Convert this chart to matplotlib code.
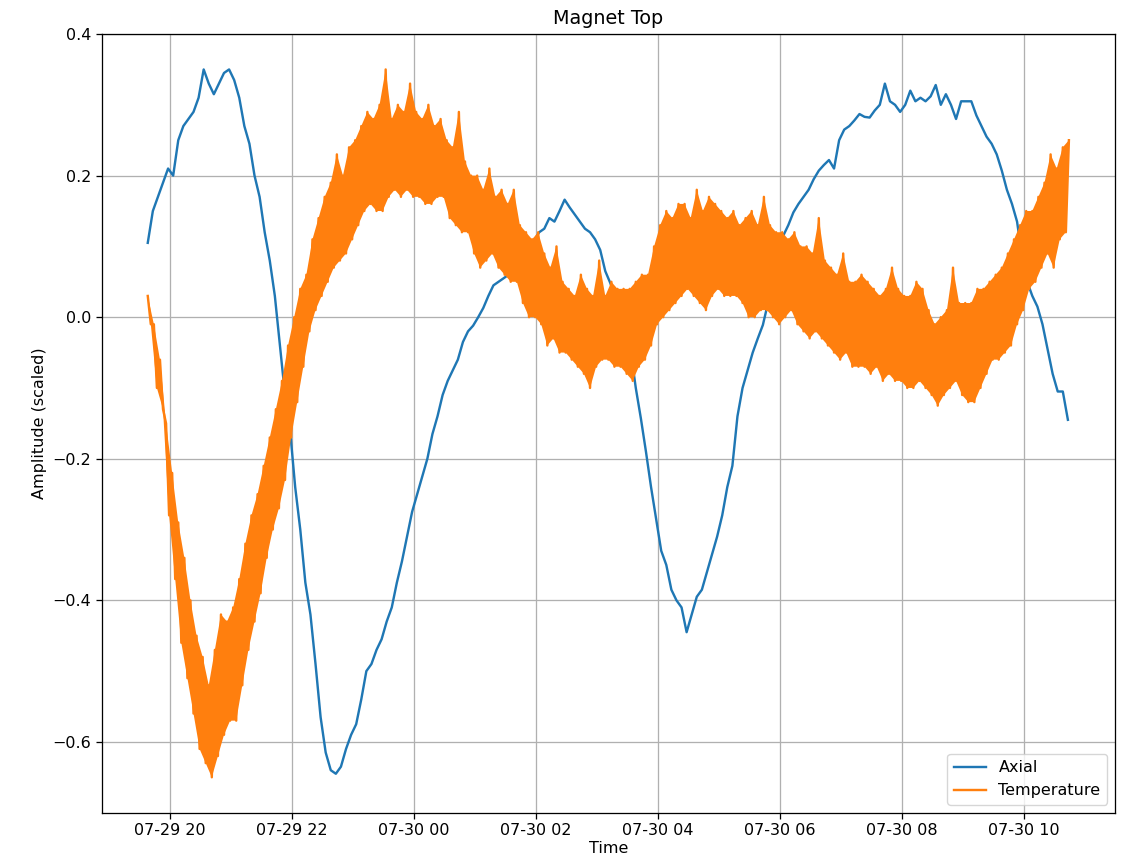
import numpy as np
import pandas as pd
import matplotlib
matplotlib.use("Agg")
import matplotlib.pyplot as plt
import matplotlib.dates as mdates

# readings taken off the plot, sensor start 07-29 19:38
start = pd.Timestamp("2019-07-29 19:38")

# axial amplitude, one reading every 5 minutes
axial = [
    0.105, 0.15, 0.17, 0.19, 0.21, 0.20, 0.25, 0.27, 0.28, 0.29,
    0.31, 0.35, 0.33, 0.315, 0.33, 0.345, 0.35, 0.335, 0.31, 0.27,
    0.245, 0.20, 0.17, 0.12, 0.08, 0.03, -0.04, -0.11, -0.16, -0.24,
    -0.30, -0.375, -0.42, -0.49, -0.565, -0.615, -0.64, -0.645, -0.635, -0.61,
    -0.59, -0.575, -0.54, -0.50, -0.49, -0.47, -0.455, -0.43, -0.41, -0.375,
    -0.345, -0.31, -0.275, -0.25, -0.225, -0.20, -0.165, -0.14, -0.11, -0.09,
    -0.075, -0.06, -0.035, -0.02, -0.012, 0.0, 0.013, 0.03, 0.045, 0.05,
    0.055, 0.06, 0.065, 0.085, 0.095, 0.10, 0.108, 0.12, 0.125, 0.14,
    0.135, 0.15, 0.166, 0.155, 0.145, 0.135, 0.125, 0.12, 0.11, 0.095,
    0.065, 0.048, 0.025, 0.0, -0.025, -0.048, -0.10, -0.143, -0.19, -0.24,
    -0.285, -0.33, -0.35, -0.385, -0.40, -0.41, -0.445, -0.42, -0.395, -0.385,
    -0.36, -0.335, -0.31, -0.28, -0.24, -0.21, -0.14, -0.10, -0.075, -0.05,
    -0.03, -0.011, 0.02, 0.05, 0.08, 0.115, 0.13, 0.148, 0.16, 0.17,
    0.18, 0.195, 0.207, 0.215, 0.222, 0.21, 0.25, 0.265, 0.27, 0.278,
    0.287, 0.283, 0.282, 0.292, 0.30, 0.33, 0.305, 0.30, 0.29, 0.30,
    0.32, 0.305, 0.31, 0.305, 0.312, 0.328, 0.30, 0.315, 0.30, 0.28,
    0.305, 0.305, 0.305, 0.285, 0.27, 0.255, 0.245, 0.23, 0.207, 0.18,
    0.16, 0.135, 0.085, 0.05, 0.03, 0.015, -0.01, -0.045, -0.08, -0.105,
    -0.105, -0.145,
]

# temperature swings hard between readings: upper peaks every 6 min,
# lower troughs every 6 min offset by 3 min
temp_hi = [
    0.03, -0.01, -0.06, -0.15, -0.22, -0.29, -0.34, -0.40, -0.45, -0.48,
    -0.52, -0.47, -0.42, -0.43, -0.41, -0.37, -0.32, -0.28, -0.25, -0.21,
    -0.17, -0.13, -0.09, -0.04, 0.00, 0.04, 0.06, 0.11, 0.14, 0.17,
    0.19, 0.23, 0.20, 0.24, 0.25, 0.27, 0.29, 0.28, 0.30, 0.35,
    0.28, 0.30, 0.29, 0.33, 0.29, 0.28, 0.30, 0.27, 0.28, 0.25,
    0.24, 0.29, 0.22, 0.20, 0.20, 0.18, 0.21, 0.17, 0.18, 0.16,
    0.18, 0.13, 0.12, 0.11, 0.12, 0.09, 0.07, 0.10, 0.05, 0.04,
    0.03, 0.06, 0.04, 0.03, 0.08, 0.03, 0.05, 0.04, 0.04, 0.04,
    0.05, 0.06, 0.06, 0.10, 0.13, 0.15, 0.14, 0.16, 0.16, 0.14,
    0.18, 0.15, 0.17, 0.16, 0.15, 0.14, 0.15, 0.13, 0.14, 0.15,
    0.13, 0.17, 0.13, 0.12, 0.12, 0.11, 0.12, 0.10, 0.10, 0.09,
    0.14, 0.08, 0.07, 0.06, 0.09, 0.05, 0.05, 0.06, 0.05, 0.04,
    0.03, 0.04, 0.07, 0.04, 0.03, 0.03, 0.05, 0.04, 0.01, -0.01,
    0.00, 0.01, 0.07, 0.02, 0.02, 0.02, 0.04, 0.04, 0.05, 0.06,
    0.07, 0.09, 0.11, 0.13, 0.15, 0.15, 0.17, 0.19, 0.23, 0.21,
    0.24, 0.25,
]
temp_lo = [
    -0.01, -0.10, -0.13, -0.28, -0.37, -0.46, -0.51, -0.56, -0.61, -0.63,
    -0.65, -0.62, -0.59, -0.57, -0.57, -0.52, -0.47, -0.43, -0.39, -0.34,
    -0.30, -0.27, -0.23, -0.17, -0.12, -0.07, -0.02, 0.01, 0.03, 0.05,
    0.07, 0.08, 0.09, 0.11, 0.13, 0.15, 0.16, 0.15, 0.15, 0.17,
    0.18, 0.17, 0.18, 0.17, 0.17, 0.16, 0.16, 0.17, 0.17, 0.14,
    0.13, 0.12, 0.12, 0.09, 0.07, 0.08, 0.09, 0.07, 0.06, 0.05,
    0.05, 0.02, 0.00, 0.00, -0.01, -0.04, -0.03, -0.05, -0.05, -0.06,
    -0.07, -0.08, -0.10, -0.07, -0.06, -0.06, -0.07, -0.07, -0.08, -0.09,
    -0.07, -0.06, -0.04, -0.01, 0.00, 0.01, 0.02, 0.03, 0.04, 0.03,
    0.02, 0.01, 0.03, 0.04, 0.03, 0.03, 0.03, 0.02, 0.00, 0.00,
    0.01, 0.01, 0.00, -0.01, 0.00, 0.01, -0.01, -0.02, -0.03, -0.02,
    -0.03, -0.04, -0.05, -0.06, -0.05, -0.07, -0.07, -0.07, -0.08, -0.07,
    -0.09, -0.08, -0.09, -0.09, -0.10, -0.10, -0.09, -0.10, -0.11, -0.125,
    -0.11, -0.10, -0.09, -0.11, -0.12, -0.12, -0.10, -0.08, -0.06, -0.06,
    -0.05, -0.04, -0.01, 0.01, 0.04, 0.05, 0.07, 0.09, 0.07, 0.11,
    0.12,
]

axial_time = pd.date_range(start, periods=len(axial), freq="5min")

temperature = np.empty(len(temp_hi) + len(temp_lo))
temperature[0::2] = temp_hi
temperature[1::2] = temp_lo
temp_time = pd.date_range(start, periods=len(temperature), freq="3min")

# the real trace is sampled so densely it reads as a solid band,
# so shade the region between the peaks and troughs as well
t_num = mdates.date2num(temp_time)
band_x = np.concatenate([t_num[0::2], t_num[1::2][::-1]])
band_y = np.concatenate([temp_hi, temp_lo[::-1]])

s = 1.15  # the original was saved a bit larger than default
plt.rcParams["font.size"] = 10 * s

fig, ax = plt.subplots(figsize=(11.3, 8.64), dpi=100)
fig.subplots_adjust(left=0.090, right=0.9867, top=0.9606, bottom=0.0594)

ax.plot(axial_time, axial, color="tab:blue", lw=1.5 * s, label="Axial", zorder=2)
ax.fill(band_x, band_y, color="tab:orange", lw=0, zorder=2.1)
ax.plot(temp_time, temperature, color="tab:orange", lw=1.5 * s,
        label="Temperature", zorder=2.2)

ax.xaxis.set_major_locator(mdates.HourLocator(byhour=range(0, 24, 2)))
ax.xaxis.set_major_formatter(mdates.DateFormatter("%m-%d %H"))
ax.set_yticks([-0.6, -0.4, -0.2, 0.0, 0.2, 0.4])

ax.grid(True, color="#b0b0b0", lw=0.8 * s)
ax.tick_params(length=3.5 * s, width=0.8 * s)
for sp in ax.spines.values():
    sp.set_linewidth(0.8 * s)

ax.set_title("Magnet Top", fontsize=12 * s, pad=6 * s)
ax.set_xlabel("Time", labelpad=2)
ax.set_ylabel("Amplitude (scaled)")
ax.legend(loc="lower right")

fig.savefig("out.png", dpi=100)
